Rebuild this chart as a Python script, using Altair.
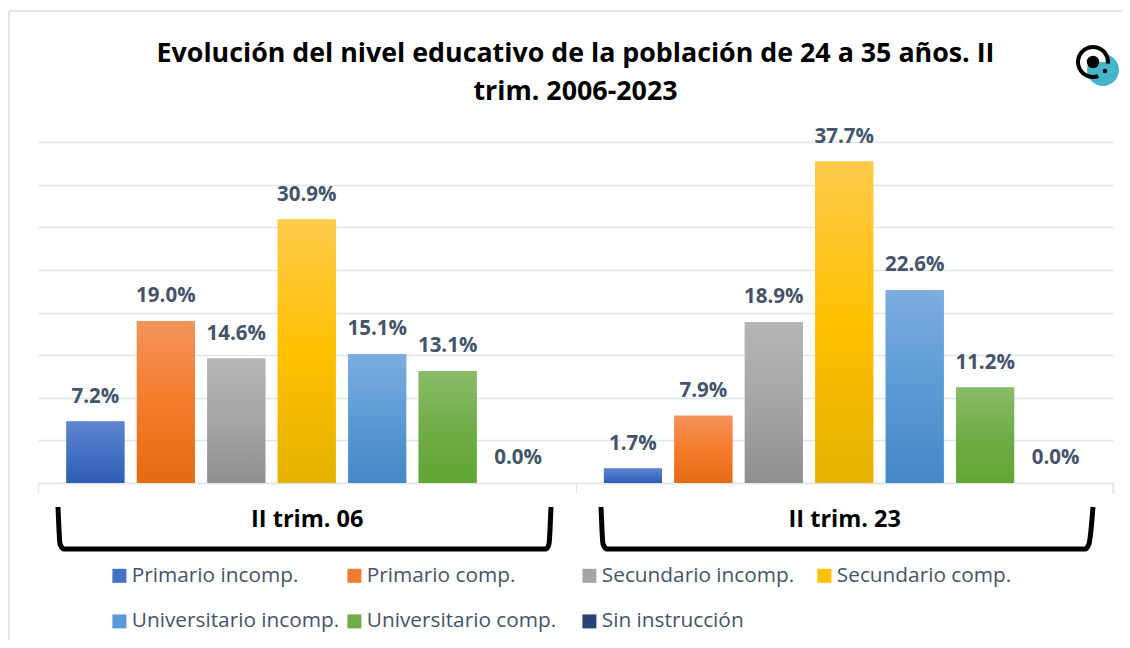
import altair as alt
import pandas as pd

title_lines = ["Evolución del nivel educativo de la población de 24 a 35 años. II", "trim. 2006-2023"]
periods = ["II trim. 06", "II trim. 23"]
series = ["Primario incomp.", "Primario comp.", "Secundario incomp.", "Secundario comp.",
          "Universitario incomp.", "Universitario comp.", "Sin instrucción"]
vals_06 = [0.072, 0.190, 0.146, 0.309, 0.151, 0.131, 0.0]
vals_23 = [0.017, 0.079, 0.189, 0.377, 0.226, 0.112, 0.0]
flat = ["#4472C4", "#ED7D31", "#A5A5A5", "#FFC000", "#5B9BD5", "#70AD47", "#264478"]
grad_top = ["#5F84CF", "#F4935B", "#B6B6B6", "#FFCB4C", "#7DADE0", "#8ABC68", "#3A5A94"]
grad_mid = ["#4472C4", "#F47C2A", "#A5A5A5", "#FFC000", "#5B9BD5", "#70AD47", "#264478"]
grad_bot = ["#2F5DB2", "#E56A16", "#8F8F8F", "#E4B200", "#4488C6", "#62A534", "#1C3870"]
bracket_a_x = [58, 59, 60, 64, 546, 549, 550, 551]
bracket_b_x = [601, 602, 603, 607, 1085, 1089, 1091, 1093]
bracket_y = [507, 530, 544, 549, 549, 544, 530, 507]

text_color = "#44546A"
grid_color = "#E1E5EC"
font = "Open Sans"

df = pd.DataFrame(
    [{"p": periods[0], "s": s, "v": v} for s, v in zip(series, vals_06)]
    + [{"p": periods[1], "s": s, "v": v} for s, v in zip(series, vals_23)]
)

x_scale = alt.Scale(type="band", domain=periods, paddingInner=0, paddingOuter=0)
x = alt.X("p:N", sort=periods, title=None, scale=x_scale,
          axis=alt.Axis(labelAngle=0, labelFont=font, labelFontSize=23.5, labelFontWeight="bold",
                        labelColor="#000000", labelPadding=14, tickBand="extent", tickSize=10,
                        tickColor=grid_color, tickWidth=1.5, domainColor=grid_color, domainWidth=1.5,
                        grid=False))
x_plain = alt.X("p:N", sort=periods, title=None, axis=None, scale=x_scale)
xo = alt.XOffset("s:N", sort=series,
                 scale=alt.Scale(type="band", domain=series, paddingInner=0.17, paddingOuter=0.4))
y_scale = alt.Scale(domain=[0, 0.4])
y = alt.Y("v:Q", title=None, scale=y_scale,
          axis=alt.Axis(values=[0, .05, .1, .15, .2, .25, .3, .35, .4], labels=False, ticks=False,
                        domain=False, grid=True, gridColor=grid_color, gridWidth=1.5))
y_plain = alt.Y("v:Q", title=None, axis=None, scale=y_scale)

base = alt.Chart(df).mark_bar(size=58).encode(
    x=x, xOffset=xo, y=y,
    color=alt.Color("s:N", sort=series, title=None,
                    scale=alt.Scale(domain=series, range=flat),
                    legend=alt.Legend(orient="none", legendX=71, legendY=423, columns=4,
                                      direction="horizontal",
                                      gridAlign="all", columnPadding=4, rowPadding=24,
                                      symbolType="square", symbolSize=196, symbolStrokeWidth=0,
                                      labelFont=font, labelFontSize=20.8, labelColor=text_color,
                                      labelOffset=2, labelLimit=300, padding=0)),
)

grad_layers = []
for s, t, m, b in zip(series, grad_top, grad_mid, grad_bot):
    grad_layers.append(
        alt.Chart(df).transform_filter(alt.datum.s == s).mark_bar(
            size=58,
            color=alt.Gradient(gradient="linear", x1=0, y1=0, x2=0, y2=1,
                               stops=[alt.GradientStop(color=t, offset=0),
                                      alt.GradientStop(color=m, offset=0.5),
                                      alt.GradientStop(color=b, offset=1)])
        ).encode(x=x_plain, xOffset=xo, y=y_plain)
    )

labels = alt.Chart(df).mark_text(baseline="middle", dy=-25, font=font, fontSize=20.5,
                                 fontWeight="bold", color=text_color).encode(
    x=x_plain, xOffset=xo, y=y_plain, text=alt.Text("v:Q", format=".1%"))

px_x = alt.Scale(domain=[38, 1113], range=[0, 1075])
px_y = alt.Scale(domain=[142, 483], range=[0, 341])
brackets = []
for bx in (bracket_a_x, bracket_b_x):
    d = pd.DataFrame({"bx": bx, "by": bracket_y, "o": range(len(bx))})
    brackets.append(
        alt.Chart(d).mark_line(color="#000000", strokeWidth=5, interpolate="monotone",
                               strokeCap="butt", strokeJoin="round", clip=False).encode(
            x=alt.X("bx:Q", scale=px_x, axis=None),
            y=alt.Y("by:Q", scale=px_y, axis=None),
            order="o:Q")
    )

one = alt.Data(values=[{"k": 1}])
end_tick = alt.Chart(one).mark_rule(color=grid_color, strokeWidth=1.5).encode(
    x=alt.value(1075), y=alt.value(341), y2=alt.value(351))
frame_left = alt.Chart(one).mark_rule(color=grid_color, strokeWidth=2).encode(
    x=alt.value(-29), y=alt.value(-131), y2=alt.value(498))
frame_top = alt.Chart(one).mark_rule(color=grid_color, strokeWidth=2).encode(
    y=alt.value(-131), x=alt.value(-29), x2=alt.value(1084))

logo_teal = alt.Chart(one).mark_circle(size=1018, color="#45B5CC", opacity=1).encode(
    x=alt.value(1065), y=alt.value(-72))
logo_white = alt.Chart(one).mark_arc(radius=0, radius2=13, theta=4.7, theta2=7.85, color="#FFFFFF").encode(
    x=alt.value(1055), y=alt.value(-80))
logo_ring = alt.Chart(one).mark_arc(radius=13, radius2=17, theta=2.79, theta2=7.96, color="#000000").encode(
    x=alt.value(1055), y=alt.value(-80))
logo_dot = alt.Chart(one).mark_circle(size=154, color="#000000", opacity=1).encode(
    x=alt.value(1055), y=alt.value(-80))
logo_small = alt.Chart(one).mark_circle(size=20, color="#000000", opacity=1).encode(
    x=alt.value(1067), y=alt.value(-71))

chart = alt.layer(
    frame_left, frame_top, base, *grad_layers, labels, *brackets, end_tick,
    logo_teal, logo_white, logo_ring, logo_dot, logo_small,
).resolve_scale(x="independent", y="independent", xOffset="independent").properties(
    width=1075, height=341,
    padding={"left": 30, "top": 134, "right": 9, "bottom": 157},
    autosize=alt.AutoSizeParams(type="none"),
    title=alt.TitleParams(text=title_lines, anchor="middle", frame="group", offset=-96, dx=0,
                          font=font, fontSize=26.8, fontWeight="bold", color="#000000",
                          lineHeight=38, baseline="top"),
).configure_view(stroke=None)

chart.save("out.html", embed_options={"renderer": "svg", "actions": False})
